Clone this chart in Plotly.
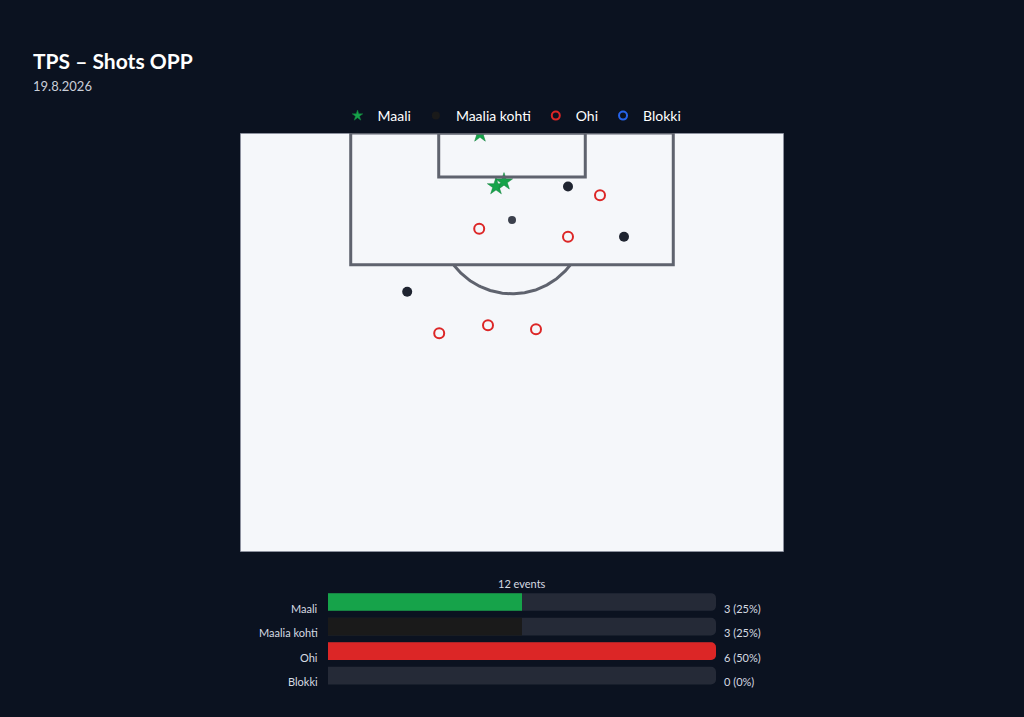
import numpy as np
import plotly.graph_objects as go

# pitch in metres: x across (0..68), y from own goal line down (0..52.5)
PITCH_W = 68.0
PITCH_L = 52.5

# shot events
goal_x = [30.0, 32.0, 33.0]
goal_y = [0.1, 6.7, 6.1]
on_target_x = [41.0, 48.0, 20.9]
on_target_y = [6.7, 13.0, 19.9]
other_x = [34.0]
other_y = [10.9]
miss_x = [45.0, 29.9, 41.0, 24.9, 31.0, 37.0]
miss_y = [7.8, 12.0, 13.0, 25.1, 24.1, 24.6]
block_x = []
block_y = []

# summary bars
categories = ["Maali", "Maalia kohti", "Ohi", "Blokki"]
counts = [3, 3, 6, 0]
bar_colors = ["#16a34a", "#1a1a1a", "#dc2626", "#252a37"]
total_events = 12

BG = "#0b1220"
LINE = "#5f636e"
FONT = "Lato, Noto Sans, sans-serif"

# marker style per category (used on pitch and, smaller, in legend)
styles = {
    "Maali": dict(symbol="star", color="#16a34a", line=dict(color="#15803d", width=0.5)),
    "Maalia kohti": dict(symbol="circle", color="#1a1a1a"),
    "Ohi": dict(symbol="circle-open", color="#dc2626", line=dict(width=2)),
    "Blokki": dict(symbol="circle-open", color="#2563eb", line=dict(width=2)),
}

fig = go.Figure()

# penalty arc
t = np.linspace(0, 2 * np.pi, 400)
ax = 34 + 9.15 * np.cos(t)
ay = 11 + 9.15 * np.sin(t)
keep = ay >= 16.5
order = np.argsort(ax[keep])
fig.add_trace(go.Scatter(x=ax[keep][order], y=ay[keep][order], mode="lines",
                         line=dict(color=LINE, width=3), hoverinfo="skip",
                         showlegend=False, xaxis="x", yaxis="y"))

fig.add_trace(go.Scatter(x=goal_x, y=goal_y, mode="markers", name="Maali", showlegend=False,
                         marker=dict(size=13, **styles["Maali"]), xaxis="x", yaxis="y"))
fig.add_trace(go.Scatter(x=on_target_x, y=on_target_y, mode="markers", name="Maalia kohti",
                         showlegend=False, marker=dict(symbol="circle", size=10, color="#1f2430"),
                         xaxis="x", yaxis="y"))
fig.add_trace(go.Scatter(x=other_x, y=other_y, mode="markers", name="Muu", showlegend=False,
                         marker=dict(symbol="circle", size=8, color="#3b404c"),
                         xaxis="x", yaxis="y"))
fig.add_trace(go.Scatter(x=miss_x, y=miss_y, mode="markers", name="Ohi", showlegend=False,
                         marker=dict(size=10, **styles["Ohi"]), xaxis="x", yaxis="y"))
fig.add_trace(go.Scatter(x=block_x, y=block_y, mode="markers", name="Blokki", showlegend=False,
                         marker=dict(size=10, **styles["Blokki"]), xaxis="x", yaxis="y"))

# legend entries with small symbols
for cat in categories:
    fig.add_trace(go.Scatter(x=[None], y=[None], mode="markers", name=cat,
                             marker=dict(size=8, **styles[cat]), xaxis="x", yaxis="y"))

# bars: track + value (scaled to the biggest count)
max_count = max(counts)
fig.add_trace(go.Bar(y=categories, x=[max_count] * len(categories), orientation="h",
                     marker=dict(color="#252a37", cornerradius=5, line=dict(width=0)), width=0.72,
                     hoverinfo="skip", showlegend=False, xaxis="x2", yaxis="y2"))
fig.add_trace(go.Bar(y=categories, x=counts, orientation="h",
                     marker=dict(color=bar_colors, cornerradius=5, line=dict(width=0)), width=0.72,
                     showlegend=False, xaxis="x2", yaxis="y2"))

shapes = [
    dict(type="rect", xref="x", yref="y", x0=0, x1=PITCH_W, y0=0, y1=PITCH_L,
         line=dict(color="#6b7080", width=1.5), layer="below", fillcolor="#f5f7fa"),
    dict(type="rect", xref="x", yref="y", x0=34 - 20.16, x1=34 + 20.16, y0=0, y1=16.5,
         line=dict(color=LINE, width=3)),
    dict(type="rect", xref="x", yref="y", x0=34 - 9.16, x1=34 + 9.16, y0=0, y1=5.5,
         line=dict(color=LINE, width=3)),
]

annotations = [
    dict(text="<b>TPS – Shots OPP</b>", xref="paper", yref="paper", x=31 / 1024, y=1 - 60 / 717,
         xanchor="left", yanchor="middle", showarrow=False,
         font=dict(size=21, color="#ffffff")),
    dict(text="19.8.2026", xref="paper", yref="paper", x=31 / 1024, y=1 - 86 / 717,
         xanchor="left", yanchor="middle", showarrow=False,
         font=dict(size=13, color="#c9ced8")),
    dict(text=f"{total_events} events", xref="x2 domain", yref="paper", x=0.5, y=1 - 583 / 717,
         xanchor="center", yanchor="middle", showarrow=False,
         font=dict(size=11, color="#d6dae2")),
]
for cat, c in zip(categories, counts):
    pct = round(100 * c / total_events)
    annotations.append(dict(text=f"{c} ({pct}%)", xref="x2 domain", yref="y2", x=1, y=cat,
                            xanchor="left", xshift=6, yshift=-6, showarrow=False,
                            font=dict(size=11, color="#d6dae2")))
    annotations.append(dict(text=cat, xref="x2 domain", yref="y2", x=0, y=cat,
                            xanchor="right", xshift=-8, yshift=-6, showarrow=False,
                            font=dict(size=11, color="#d6dae2")))

fig.update_layout(
    template="none",
    width=1024, height=717,
    margin=dict(l=0, r=0, t=0, b=0),
    paper_bgcolor=BG, plot_bgcolor=BG,
    font=dict(family=FONT, color="#e5e7eb"),
    barmode="overlay",
    showlegend=True,
    legend=dict(orientation="h", x=0.5, xanchor="center", y=1 - 116 / 717, yanchor="middle",
                font=dict(size=14, color="#ffffff"), bgcolor="rgba(0,0,0,0)",
                itemwidth=30, tracegroupgap=0),
    xaxis=dict(domain=[240 / 1024, 784 / 1024], range=[0, PITCH_W], visible=False,
               fixedrange=True),
    yaxis=dict(domain=[1 - 552 / 717, 1 - 133 / 717], range=[PITCH_L, 0], visible=False,
               fixedrange=True),
    xaxis2=dict(domain=[328 / 1024, 716 / 1024], range=[0, max_count], visible=False,
                fixedrange=True, anchor="y2"),
    yaxis2=dict(domain=[1 - 688 / 717, 1 - 587.5 / 717], autorange="reversed",
                showgrid=False, zeroline=False, showline=False, showticklabels=False,
                fixedrange=True, anchor="x2"),
    shapes=shapes,
    annotations=annotations,
)

fig.write_html("out.html", config={"displayModeBar": False},
               post_script="document.body.style.margin='0';document.body.style.background='#0b1220';")
